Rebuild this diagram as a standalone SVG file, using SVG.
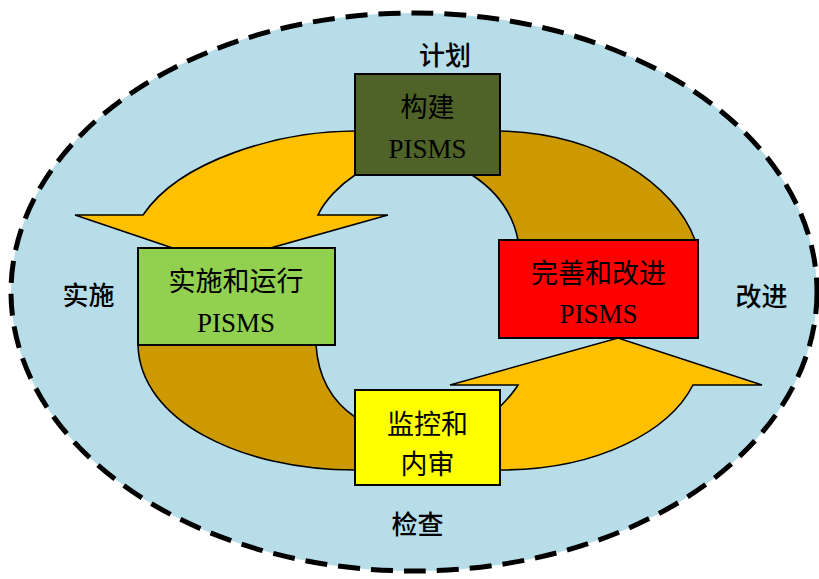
<svg xmlns="http://www.w3.org/2000/svg" width="819" height="579" viewBox="0 0 819 579">
<style>
.ring{stroke:#000;stroke-width:1.6;stroke-linejoin:miter}
.orange{fill:#FFC000}
.gold{fill:#CC9900}
.box{stroke:#000;stroke-width:2}
.bt{font-family:"Liberation Serif","Noto Sans CJK SC",serif;font-size:27px;fill:#000;text-anchor:middle}
.lbl{font-family:"Noto Sans CJK SC","Noto Sans",sans-serif;font-size:26px;font-weight:500;fill:#000;text-anchor:middle}
</style>
<rect width="819" height="579" fill="#fff"/>
<g id="background">
<ellipse cx="414" cy="292" rx="403" ry="279" fill="#B7DDE8" stroke="#000" stroke-width="5" stroke-dasharray="22 11"/>
</g>
<g id="connectors">
<path class="ring orange" d="M365,131 L355,131 C280,131 180,160 143,215 L75,215 L217,263 L388,215 L318,215 C325,200 340,185 355,175 L365,170 Z"/>
<path class="ring gold" d="M490,131 L500,131 C600,133 675,185 695,240 L695,246 L518,246 L518,240 C512,210 495,190 472,175 L472,168 Z"/>
<path class="ring orange" d="M490,470 L500,470 C600,470 670,430 693,385 L762,385 L618,338 L450,385 L518,385 C512,395 505,402 495,412 Z"/>
<path class="ring gold" d="M316,340 L316,345 C318,375 330,400 355,417 L365,420 L365,470 L355,470 C240,470 140,420 138,345 L138,340 Z"/>
</g>
<g id="node-plan">
<rect class="box" x="355" y="74" width="145" height="101" fill="#4F6228"/>
<text class="bt" x="427.5" y="117">构建</text>
<text class="bt" x="427.5" y="158">PISMS</text>
</g>
<g id="node-do">
<rect class="box" x="138" y="248" width="197" height="97" fill="#92D050"/>
<text class="bt" x="236" y="291">实施和运行</text>
<text class="bt" x="236" y="332">PISMS</text>
</g>
<g id="node-act">
<rect class="box" x="499" y="240" width="199" height="98" fill="#FF0000"/>
<text class="bt" x="598.5" y="283">完善和改进</text>
<text class="bt" x="598.5" y="323">PISMS</text>
</g>
<g id="node-check">
<rect class="box" x="355" y="390" width="145" height="95" fill="#FFFF00"/>
<text class="bt" x="427.5" y="434">监控和</text>
<text class="bt" x="427.5" y="474">内审</text>
</g>
<g id="labels">
<text class="lbl" x="445" y="65">计划</text>
<text class="lbl" x="88.5" y="305">实施</text>
<text class="lbl" x="761.5" y="306">改进</text>
<text class="lbl" x="417.5" y="534">检查</text>
</g>
</svg>
